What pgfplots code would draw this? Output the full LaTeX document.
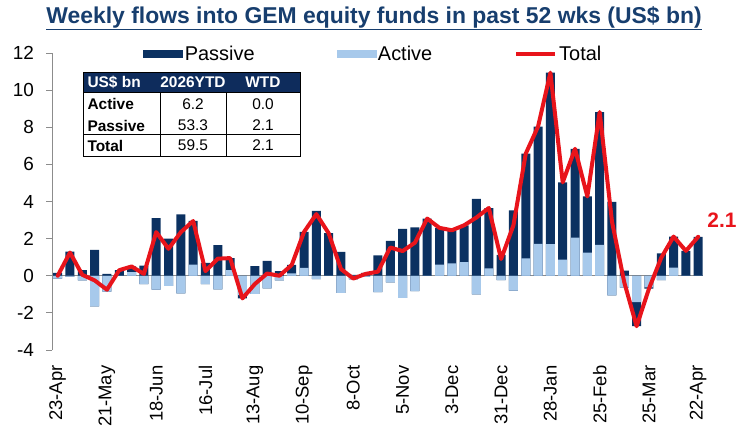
\documentclass[border=0pt]{standalone}
\usepackage{fontspec}
\setmainfont{Liberation Sans}
\usepackage{pgfplots}
\pgfplotsset{compat=1.18}
\usepackage{pgfplotstable}

\definecolor{passive}{HTML}{0B3161}
\definecolor{active}{HTML}{A7C9EB}
\definecolor{totred}{HTML}{E8141B}
\definecolor{navy}{HTML}{173E6E}
\definecolor{hdr}{HTML}{0E2C5C}
\definecolor{axgray}{HTML}{8C8C8C}

\pgfplotstableread{
i P A T
0 0.15 -0.15 0.00
1 1.30 -0.05 1.25
2 0.30 -0.25 0.05
3 1.40 -1.65 -0.25
4 0.10 -0.85 -0.75
5 0.30 0.00 0.30
6 0.30 0.20 0.50
7 0.55 -0.45 0.10
8 3.10 -0.75 2.35
9 2.00 -0.55 1.45
10 3.30 -0.95 2.35
11 2.35 0.60 2.95
12 0.70 -0.45 0.25
13 1.65 -0.73 0.92
14 0.65 0.30 0.95
15 -0.17 -1.05 -1.22
16 0.52 -0.97 -0.45
17 0.80 -0.68 0.12
18 0.25 -0.25 0.00
19 0.45 0.13 0.58
20 1.93 0.43 2.36
21 3.50 -0.18 3.32
22 2.29 0.00 2.29
23 1.28 -0.92 0.36
24 0.05 -0.20 -0.15
25 0.15 -0.05 0.10
26 1.10 -0.88 0.22
27 1.88 -0.36 1.52
28 2.52 -1.19 1.33
29 2.61 -0.83 1.78
30 3.08 0.00 3.08
31 1.98 0.60 2.58
32 1.78 0.67 2.45
33 1.99 0.73 2.72
34 4.14 -1.00 3.14
35 3.25 0.40 3.65
36 1.13 -0.23 0.90
37 3.52 -0.80 2.72
38 5.64 0.94 6.58
39 6.32 1.72 8.04
40 9.23 1.71 10.94
41 4.16 0.87 5.03
42 4.79 2.05 6.84
43 3.03 1.24 4.27
44 7.16 1.66 8.82
45 3.98 -1.06 2.92
46 0.28 -0.64 -0.36
47 -1.30 -1.42 -2.72
48 -0.07 -0.63 -0.70
49 1.20 -0.23 0.97
50 1.67 0.44 2.11
51 1.34 0.00 1.34
52 2.10 0.00 2.10
}\flows

\begin{document}
\begin{tikzpicture}
\begin{axis}[
  scale only axis,
  width=650bp, height=297bp,
  xmin=-0.42, xmax=52.35, ymin=-4, ymax=12,
  axis y line=left, axis x line=bottom,
  axis line style={-, draw=axgray, line width=0.8bp},
  x axis line style={draw=none},
  xtick style={draw=none},
  ytick style={draw=axgray, line width=0.8bp},
  tick align=outside, major tick length=6bp,
  ytick={-4,-2,...,12},
  extra y ticks={0}, extra y tick labels={},
  extra y tick style={grid=major, major grid style={draw=axgray, line width=0.8bp}},
  xtick={0,4,...,52},
  xticklabels={23-Apr,21-May,18-Jun,16-Jul,13-Aug,10-Sep,8-Oct,5-Nov,3-Dec,31-Dec,28-Jan,25-Feb,25-Mar,22-Apr},
  xticklabel style={rotate=90, anchor=east, font=\fontsize{18.5}{20}\selectfont},
  xticklabel shift=6bp,
  yticklabel style={font=\fontsize{19}{22}\selectfont, xshift=-9bp},
  /pgf/number format/assume math mode=true,
  clip=false,
  legend style={draw=none, fill=none, legend columns=-1, at={(0.135,0.997)}, anchor=west,
    font=\fontsize{20}{24}\selectfont,
    /tikz/every even column/.append style={column sep=80bp}},
]
\addlegendimage{legend image code/.code={\fill[passive] (0bp,-3.5bp) rectangle (39bp,3.5bp);}}
\addlegendentry{Passive}
\addlegendimage{legend image code/.code={\fill[active] (0bp,-3.5bp) rectangle (39bp,3.5bp);}}
\addlegendentry{Active}
\addlegendimage{legend image code/.code={\draw[totred, line width=4bp] (0bp,0bp) -- (39bp,0bp);}}
\addlegendentry{Total}

\addplot[ybar, bar width=9bp, bar shift=0pt, fill=passive, draw=none, forget plot]
  table[x=i, y expr={max(\thisrow{P},0)+max(\thisrow{A},0)}] {\flows};
\addplot[ybar, bar width=9bp, bar shift=0pt, fill=active, draw=none, forget plot]
  table[x=i, y expr={max(\thisrow{A},0)}] {\flows};
\addplot[ybar, bar width=9bp, bar shift=0pt, fill=passive, draw=none, forget plot]
  table[x=i, y expr={min(\thisrow{P},0)+min(\thisrow{A},0)}] {\flows};
\addplot[ybar, bar width=9bp, bar shift=0pt, fill=active, draw=none, forget plot]
  table[x=i, y expr={min(\thisrow{A},0)}] {\flows};
\addplot[totred, line width=4bp, line join=round, line cap=round, mark=none, forget plot]
  table[x=i, y=T] {\flows};
\coordinate (O) at (rel axis cs:0,0);
\end{axis}
\begin{scope}[shift={(O)}, x=1bp, y=1bp, shift={(-52.5,-80)}]
\node[font=\fontsize{23}{27}\selectfont\bfseries, text=navy] at (374,412)
  {\underline{Weekly flows into GEM equity funds in past 52 wks (US\$ bn)}};
\node[text=totred, font=\fontsize{21}{24}\selectfont\bfseries] at (722,210) {2.1};
% table
\fill[white] (83,274) rectangle (300,358);
\fill[hdr] (83,338) rectangle (300,358);
\draw[black, line width=1bp] (83,274) rectangle (300,358);
\draw[black, line width=1bp] (83,338) -- (300,338);
\draw[black, line width=1bp] (83,296) -- (300,296);
\draw[black, line width=1bp] (160,274) -- (160,338);
\draw[black, line width=1bp] (226,274) -- (226,338);
\node[anchor=west, text=white, font=\fontsize{15.5}{18}\selectfont\bfseries] at (84,347.5) {US\$ bn};
\node[text=white, font=\fontsize{15.5}{18}\selectfont\bfseries] at (193,347.5) {2026YTD};
\node[text=white, font=\fontsize{15.5}{18}\selectfont\bfseries] at (263,347.5) {WTD};
\node[anchor=west, font=\fontsize{15.5}{18}\selectfont\bfseries] at (84,326) {Active};
\node[anchor=west, font=\fontsize{15.5}{18}\selectfont\bfseries] at (84,304.5) {Passive};
\node[anchor=west, font=\fontsize{15.5}{18}\selectfont\bfseries] at (84,284.5) {Total};
\begin{scope}[every node/.style={font=\fontsize{15.5}{18}\selectfont}]
\node at (193,326) {6.2};
\node at (263,326) {0.0};
\node at (193,304.5) {53.3};
\node at (263,304.5) {2.1};
\node at (193,284.5) {59.5};
\node at (263,284.5) {2.1};
\end{scope}
\pgfresetboundingbox
\path[use as bounding box] (0,0) rectangle (740,430);
\end{scope}
\end{tikzpicture}
\end{document}
